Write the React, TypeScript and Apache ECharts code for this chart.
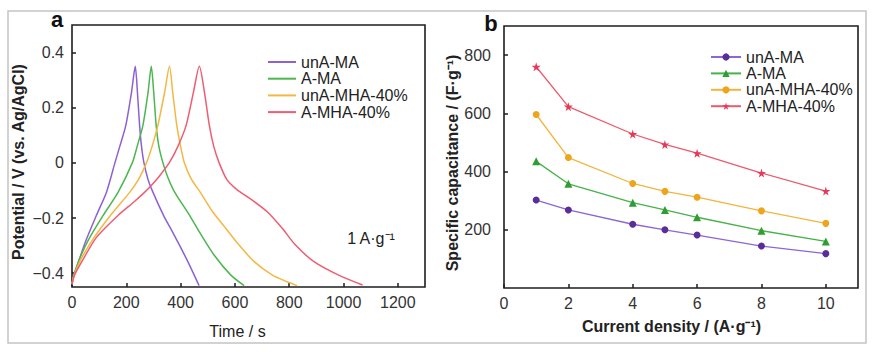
import React, { useEffect, useRef } from "react";
import * as echarts from "echarts";

// ---- Panel a: galvanostatic charge/discharge at 1 A/g (time s, potential V) ----
const gcdUnAMA: number[][] = [
  [0, -0.44], [5, -0.415], [20, -0.37], [50, -0.285], [90, -0.19], [127, -0.106],
  [158, 0.0], [176, 0.06], [198, 0.135], [219, 0.255], [233, 0.35],
  [241, 0.255], [249, 0.135], [256, 0.06], [265, 0.0], [280, -0.06], [298, -0.106],
  [337, -0.19], [370, -0.25], [402, -0.31], [435, -0.375], [468, -0.445],
];
const gcdAMA: number[][] = [
  [0, -0.44], [6, -0.41], [25, -0.355], [60, -0.28], [115, -0.19], [170, -0.106],
  [222, 0.0], [240, 0.06], [261, 0.135], [280, 0.255], [292, 0.35],
  [301, 0.255], [310, 0.135], [320, 0.06], [335, 0.0], [352, -0.05], [378, -0.106],
  [433, -0.19], [469, -0.25], [524, -0.335], [585, -0.407], [634, -0.445],
];
const gcdUnAMHA: number[][] = [
  [0, -0.44], [7, -0.41], [30, -0.355], [75, -0.28], [142, -0.19], [213, -0.106],
  [245, -0.06], [274, 0.0], [295, 0.06], [316, 0.135], [341, 0.255], [359, 0.35],
  [371, 0.255], [386, 0.135], [400, 0.06], [414, 0.0], [440, -0.06], [472, -0.106],
  [520, -0.18], [567, -0.238], [616, -0.299], [671, -0.358], [738, -0.407], [790, -0.43], [829, -0.445],
];
const gcdAMHA: number[][] = [
  [0, -0.44], [8, -0.41], [35, -0.36], [90, -0.27], [170, -0.19], [230, -0.14],
  [268, -0.106], [292, -0.082], [320, -0.05], [358, 0.0], [390, 0.06], [420, 0.135],
  [447, 0.255], [469, 0.35], [488, 0.255], [506, 0.135], [522, 0.06], [542, 0.0],
  [570, -0.06], [604, -0.094], [665, -0.136], [720, -0.178], [775, -0.238],
  [824, -0.299], [891, -0.358], [982, -0.407], [1070, -0.443],
];
const potentialTicks = [-0.4, -0.2, 0, 0.2, 0.4];

// ---- Panel b: specific capacitance vs current density ----
const currentDensity = [1, 2, 4, 5, 6, 8, 10];
const capUnAMA = [302, 268, 219, 200, 182, 144, 118];
const capAMA = [435, 358, 293, 268, 243, 197, 160];
const capUnAMHA = [596, 448, 359, 332, 312, 265, 222];
const capAMHA = [760, 623, 529, 493, 463, 395, 333];
const capTicks = [200, 400, 600, 800];

const seriesNames = ["unA-MA", "A-MA", "unA-MHA-40%", "A-MHA-40%"];
const lineColorsA = ["#8c62d2", "#4cb650", "#f3b843", "#ee5d72"];
const lineColorsB = ["#8b66d4", "#45b34a", "#f2b53c", "#ec5a6e"];
const markerColors = ["#5a2e98", "#2f9d32", "#eea51e", "#e53a57"];
const markerShapes = ["circle", "triangle", "circle", "path://M50,0 L61,35 L98,35 L68,57 L79,91 L50,70 L21,91 L32,57 L2,35 L39,35 Z"];
const markerSizes = [7, 8, 7, 9];

const FONT = "'Liberation Sans', Arial, sans-serif";
const minus = (v: number) => (v < 0 ? "\u2212" + Math.abs(v) : String(v));

export default function App() {
  const ref = useRef<HTMLDivElement>(null);
  useEffect(() => {
    if (!ref.current) return;
    const chart = echarts.init(ref.current, null, { renderer: "svg" });
    const gcd = [gcdUnAMA, gcdAMA, gcdUnAMHA, gcdAMHA];
    const caps = [capUnAMA, capAMA, capUnAMHA, capAMHA];
    const tickLabel = { fontSize: 16, color: "#333", fontFamily: FONT };
    const tickStyle = { inside: true, length: 4, lineStyle: { color: "#1e1e1e", width: 1.5 } };
    const nameStyle = { fontSize: 16, color: "#222", fontFamily: FONT };
    const option: any = {
      animation: false,
      textStyle: { fontFamily: FONT },
      grid: [
        { left: 72, top: 25, width: 353, height: 262, show: true, borderColor: "#1e1e1e", borderWidth: 1.6 },
        { left: 504, top: 26, width: 354, height: 262, show: true, borderColor: "#1e1e1e", borderWidth: 1.6 },
      ],
      xAxis: [
        {
          type: "value", gridIndex: 0, min: 0, max: 1300, interval: 200,
          axisLine: { show: false, onZero: false }, splitLine: { show: false },
          axisTick: tickStyle,
          axisLabel: { ...tickLabel, margin: 7, showMaxLabel: false, formatter: (v: number) => String(v) },
          name: "Time / s", nameLocation: "middle", nameGap: 36,
          nameTextStyle: { ...nameStyle, padding: [0, 22, 0, 0] },
        },
        {
          type: "value", gridIndex: 1, min: 0, max: 11, interval: 2,
          axisLine: { show: false, onZero: false }, splitLine: { show: false },
          axisTick: tickStyle,
          axisLabel: { ...tickLabel, margin: 7, showMaxLabel: false, formatter: (v: number) => String(v) },
          name: "Current density / (A\u00b7g\u207b\u00b9)", nameLocation: "middle", nameGap: 30,
          nameTextStyle: { ...nameStyle, fontWeight: "bold", padding: [0, 19, 0, 0] },
        },
      ],
      yAxis: [
        {
          type: "value", gridIndex: 0, min: -0.45, max: 0.5,
          axisLine: { show: false, onZero: false }, splitLine: { show: false },
          axisTick: { ...tickStyle, customValues: potentialTicks },
          axisLabel: { ...tickLabel, margin: 8, customValues: potentialTicks, formatter: (v: number) => minus(Math.round(v * 10) / 10) },
          name: "Potential / V (vs. Ag/AgCl)", nameLocation: "middle", nameGap: 46,
          nameTextStyle: { ...nameStyle, fontWeight: "bold", padding: [0, 12, 0, 0] },
        },
        {
          type: "value", gridIndex: 1, min: 0, max: 900,
          axisLine: { show: false, onZero: false }, splitLine: { show: false },
          axisTick: { ...tickStyle, customValues: capTicks },
          axisLabel: { ...tickLabel, margin: 13, customValues: capTicks },
          name: "Specific capacitance / (F\u00b7g\u207b\u00b9)", nameLocation: "middle", nameGap: 39,
          nameTextStyle: { ...nameStyle, fontWeight: "bold", padding: [0, 12, 0, 0] },
        },
      ],
      legend: [
        {
          orient: "vertical", left: 267, top: 54, padding: 0, itemWidth: 28, itemHeight: 10, itemGap: 0.7,
          textStyle: { fontSize: 16, color: "#222", fontFamily: FONT, lineHeight: 16 },
          data: seriesNames.map((n) => ({ name: n, itemStyle: { opacity: 0 } })),
          selectedMode: false,
        },
        {
          orient: "vertical", left: 710, top: 49, padding: 0, itemWidth: 30, itemHeight: 9, itemGap: 0.4,
          textStyle: { fontSize: 16, color: "#222", fontFamily: FONT, lineHeight: 16 },
          data: seriesNames.map((n) => n + "#b"),
          formatter: (n: string) => n.replace("#b", ""),
          selectedMode: false,
        },
      ],
      series: [
        ...seriesNames.map((n, i) => ({
          name: n, type: "line", xAxisIndex: 0, yAxisIndex: 0,
          data: gcd[i], symbol: "none", smooth: 0.25,
          lineStyle: { color: lineColorsA[i], width: 1.5 },
          itemStyle: { color: lineColorsA[i] },
        })),
        ...seriesNames.map((n, i) => ({
          name: n + "#b", type: "line", xAxisIndex: 1, yAxisIndex: 1,
          data: currentDensity.map((x, k) => [x, caps[i][k]]),
          symbol: markerShapes[i], symbolSize: markerSizes[i], showSymbol: true,
          lineStyle: { color: lineColorsB[i], width: 1.3 },
          itemStyle: { color: markerColors[i] },
        })),
      ],
      graphic: [
        { type: "rect", shape: { x: 8, y: 11, width: 858, height: 332 }, style: { fill: "none", stroke: "#c4c4c4", lineWidth: 1.5 }, silent: true },
        { type: "text", x: 57, y: 19, style: { text: "a", fontSize: 22, fontWeight: "bold", fill: "#111", fontFamily: FONT, align: "center", verticalAlign: "middle" } },
        { type: "text", x: 491, y: 23, style: { text: "b", fontSize: 22, fontWeight: "bold", fill: "#111", fontFamily: FONT, align: "center", verticalAlign: "middle" } },
        { type: "text", x: 371, y: 238, style: { text: "1 A\u00b7g\u207b\u00b9", fontSize: 16, fill: "#222", fontFamily: FONT, align: "center", verticalAlign: "middle" } },
      ],
    };
    chart.setOption(option);
    return () => chart.dispose();
  }, []);
  return <div ref={ref} style={{ position: "fixed", left: 0, top: 0, width: 880, height: 352, background: "#fff" }} />;
}
